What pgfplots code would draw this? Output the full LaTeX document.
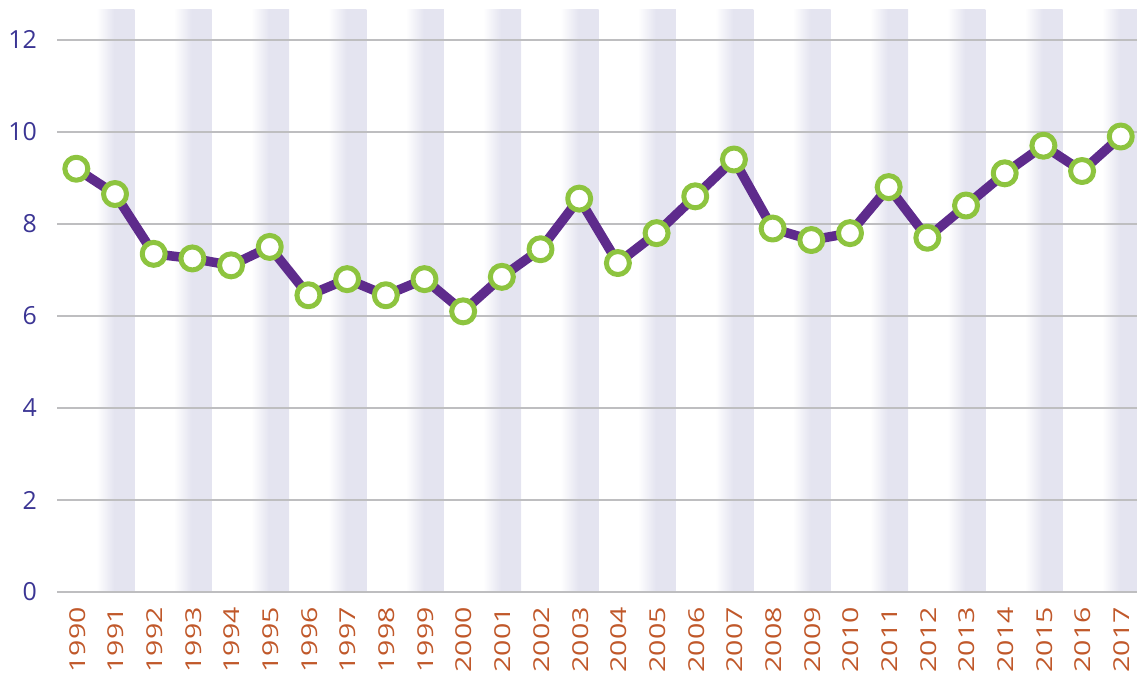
\documentclass[border=0pt]{standalone}
\usepackage{fontspec}
\setmainfont{Open Sans}
\usepackage{pgfplots}
\pgfplotsset{compat=1.18}
\usetikzlibrary{calc}
\definecolor{lav}{HTML}{E4E4F0}
\definecolor{gridc}{HTML}{BEBEC0}
\definecolor{linec}{HTML}{5E2B8C}
\definecolor{markc}{HTML}{8DC43F}
\definecolor{ylab}{HTML}{3B3594}
\definecolor{xlab}{HTML}{C0582A}
\pgfdeclarehorizontalshading{stripe}{100bp}{color(0bp)=(white); color(26bp)=(white); color(49bp)=(lav); color(100bp)=(lav)}
\pgfplotstableread{
year val
1990 9.2
1991 8.65
1992 7.35
1993 7.25
1994 7.1
1995 7.5
1996 6.45
1997 6.8
1998 6.45
1999 6.8
2000 6.1
2001 6.85
2002 7.45
2003 8.55
2004 7.15
2005 7.8
2006 8.6
2007 9.4
2008 7.9
2009 7.65
2010 7.8
2011 8.8
2012 7.7
2013 8.4
2014 9.1
2015 9.7
2016 9.15
2017 9.9
}\datatable
\begin{document}
\begin{tikzpicture}
\begin{axis}[
  name=ax,
  set layers,
  scale only axis,
  width=1080bp, height=582bp,
  xmin=1989.5, xmax=2017.42,
  ymin=0, ymax=12.65,
  ytick={0,2,...,12},
  xtick={1990,...,2017},
  /pgf/number format/assume math mode=true,
  axis line style={draw=none},
  tick style={draw=none},
  ymajorgrids,
  grid style={gridc, line width=2.4bp},
  yticklabel style={font=\fontsize{25}{25}\selectfont, text=ylab, anchor=east, inner sep=0pt, xshift=-20bp},
  xticklabel={\scalebox{1.3}[1]{\pgfmathprintnumber[fixed,precision=0,1000 sep={},assume math mode=true]{\tick}}},
  xticklabel style={font=\fontsize{22}{22}\selectfont, text=xlab, inner sep=0pt, xshift=1bp, yshift=-15bp, rotate=90, anchor=east},
]
\addplot[on layer=axis background, draw=none, shading=stripe] coordinates {(1990.5,0) (1991.5,0) (1991.5,12.65) (1990.5,12.65)} --cycle;
\addplot[on layer=axis background, draw=none, shading=stripe] coordinates {(1992.5,0) (1993.5,0) (1993.5,12.65) (1992.5,12.65)} --cycle;
\addplot[on layer=axis background, draw=none, shading=stripe] coordinates {(1994.5,0) (1995.5,0) (1995.5,12.65) (1994.5,12.65)} --cycle;
\addplot[on layer=axis background, draw=none, shading=stripe] coordinates {(1996.5,0) (1997.5,0) (1997.5,12.65) (1996.5,12.65)} --cycle;
\addplot[on layer=axis background, draw=none, shading=stripe] coordinates {(1998.5,0) (1999.5,0) (1999.5,12.65) (1998.5,12.65)} --cycle;
\addplot[on layer=axis background, draw=none, shading=stripe] coordinates {(2000.5,0) (2001.5,0) (2001.5,12.65) (2000.5,12.65)} --cycle;
\addplot[on layer=axis background, draw=none, shading=stripe] coordinates {(2002.5,0) (2003.5,0) (2003.5,12.65) (2002.5,12.65)} --cycle;
\addplot[on layer=axis background, draw=none, shading=stripe] coordinates {(2004.5,0) (2005.5,0) (2005.5,12.65) (2004.5,12.65)} --cycle;
\addplot[on layer=axis background, draw=none, shading=stripe] coordinates {(2006.5,0) (2007.5,0) (2007.5,12.65) (2006.5,12.65)} --cycle;
\addplot[on layer=axis background, draw=none, shading=stripe] coordinates {(2008.5,0) (2009.5,0) (2009.5,12.65) (2008.5,12.65)} --cycle;
\addplot[on layer=axis background, draw=none, shading=stripe] coordinates {(2010.5,0) (2011.5,0) (2011.5,12.65) (2010.5,12.65)} --cycle;
\addplot[on layer=axis background, draw=none, shading=stripe] coordinates {(2012.5,0) (2013.5,0) (2013.5,12.65) (2012.5,12.65)} --cycle;
\addplot[on layer=axis background, draw=none, shading=stripe] coordinates {(2014.5,0) (2015.5,0) (2015.5,12.65) (2014.5,12.65)} --cycle;
\addplot[on layer=axis background, draw=none, shading=stripe] coordinates {(2016.5,0) (2017.5,0) (2017.5,12.65) (2016.5,12.65)} --cycle;
\addplot[linec, line width=9.5bp, line join=round, mark=*, mark size=11.5bp,
  mark options={fill=white, draw=markc, line width=5bp}] table[x=year, y=val] {\datatable};
\end{axis}
\pgfresetboundingbox
\path[use as bounding box] ($(ax.south west)+(-57bp,-80bp)$) rectangle ($(ax.north east)+(0,10bp)$);
\end{tikzpicture}
\end{document}
